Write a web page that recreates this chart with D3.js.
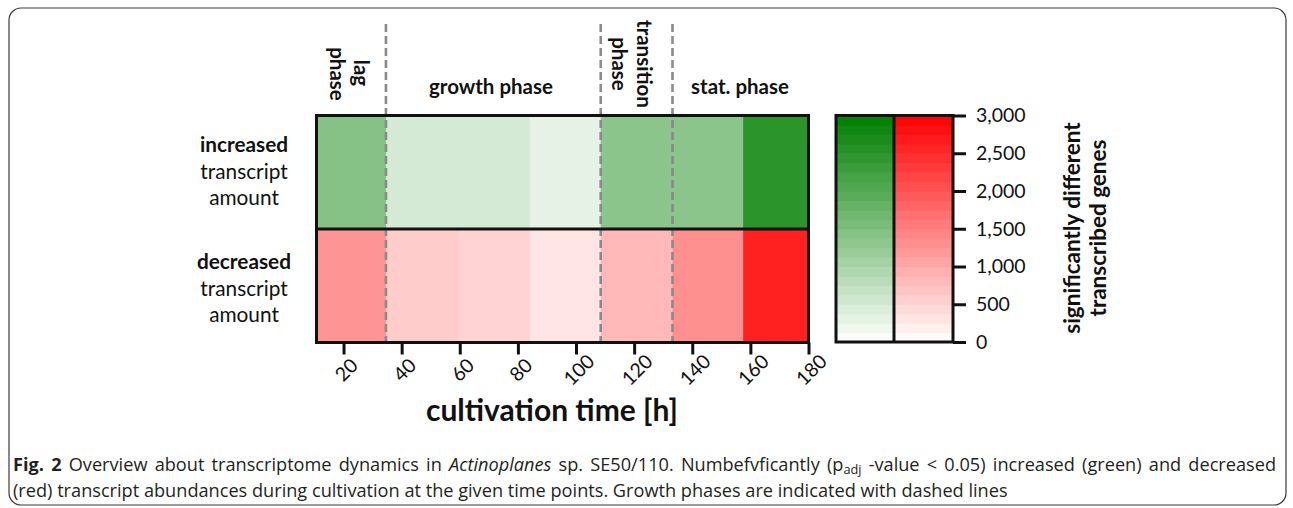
<!DOCTYPE html>
<html>
<head>
<meta charset="utf-8">
<script src="https://cdn.jsdelivr.net/npm/d3@7"></script>
<style>
  html, body { margin: 0; padding: 0; background: #fff; }
  svg { display: block; }
</style>
</head>
<body>
<svg id="fig" width="1293" height="508"></svg>
<script>
// Sampling windows (hours): each cell spans timeEdges[i]..timeEdges[i+1]
const timeEdges = [10.7, 34.6, 59.7, 84.1, 108.5, 133.2, 157.5, 180];
const rows = ["increased", "decreased"];
// Number of significantly different transcribed genes per window
const increasedGenes = [1425, 495, 495, 300, 1365, 1360, 2500];
const decreasedGenes = [1260, 600, 520, 305, 825, 1305, 2625];
const xTicks = [20, 40, 60, 80, 100, 120, 140, 160, 180];
const colorTicks = [0, 500, 1000, 1500, 2000, 2500, 3000];
const phaseBoundaries = [34.6, 108.5, 133.2];

const svg = d3.select("#fig");
const chartFont = "Lato, 'Open Sans', sans-serif";
const ink = "#111";

// outer rounded frame
svg.append("rect")
  .attr("x", 9).attr("y", 8).attr("width", 1277).attr("height", 497)
  .attr("rx", 12).attr("fill", "none").attr("stroke", "#3a3a3a").attr("stroke-width", 1.2);

const x = d3.scaleLinear().domain([10.7, 180]).range([316.5, 808.5]);
const y = d3.scaleBand().domain(rows).range([115.5, 342.5]);
const cScale = d3.scaleLinear().domain([0, 3000]).range([342, 115.5]);

const greenColor = d3.scaleLinear().domain([0, 3000]).range(["#ffffff", "#007f00"]).interpolate(d3.interpolateRgb);
const redColor = d3.scaleLinear().domain([0, 3000]).range(["#ffffff", "#ff0000"]).interpolate(d3.interpolateRgb);

const series = [
  { row: "increased", values: increasedGenes, color: greenColor },
  { row: "decreased", values: decreasedGenes, color: redColor }
];

// heatmap cells
const cells = svg.append("g");
series.forEach(s => {
  cells.selectAll(null)
    .data(s.values)
    .enter().append("rect")
    .attr("x", (d, i) => x(timeEdges[i]))
    .attr("width", (d, i) => x(timeEdges[i + 1]) - x(timeEdges[i]) + 0.5)
    .attr("y", y(s.row))
    .attr("height", y.bandwidth())
    .attr("fill", d => s.color(d));
});

// phase dividers
svg.append("g").selectAll("line")
  .data(phaseBoundaries)
  .enter().append("line")
  .attr("x1", d => x(d)).attr("x2", d => x(d))
  .attr("y1", 24).attr("y2", 341)
  .attr("stroke", "#8a8a8a").attr("stroke-width", 2.6)
  .attr("stroke-dasharray", "8,4");

// heatmap frame and row separator
svg.append("rect")
  .attr("x", x.range()[0]).attr("y", y.range()[0])
  .attr("width", x.range()[1] - x.range()[0])
  .attr("height", y.range()[1] - y.range()[0])
  .attr("fill", "none").attr("stroke", ink).attr("stroke-width", 3);
svg.append("line")
  .attr("x1", x.range()[0]).attr("x2", x.range()[1])
  .attr("y1", y("decreased")).attr("y2", y("decreased"))
  .attr("stroke", ink).attr("stroke-width", 3);

// x axis
const xAxis = svg.append("g")
  .attr("transform", `translate(0,${y.range()[1]})`)
  .call(d3.axisBottom(x).tickValues(xTicks).tickSize(12).tickFormat(d3.format("d")));
xAxis.select(".domain").remove();
xAxis.selectAll(".tick line").attr("stroke", ink).attr("stroke-width", 3);
xAxis.selectAll(".tick text")
  .attr("font-family", chartFont).attr("font-size", 19.5).attr("fill", ink)
  .attr("text-anchor", "middle").attr("dy", null).attr("y", null)
  .attr("dominant-baseline", "central")
  .attr("transform", "translate(2,27) rotate(-45)");

svg.append("text")
  .attr("x", 552).attr("y", 421)
  .attr("text-anchor", "middle")
  .attr("font-family", chartFont).attr("font-weight", 700).attr("font-size", 30)
  .attr("fill", ink)
  .text("cultivation time [h]");

// row labels
const rowLabels = [
  { row: "increased", base: 152 },
  { row: "decreased", base: 269 }
];
rowLabels.forEach(r => {
  const t = svg.append("text")
    .attr("text-anchor", "middle")
    .attr("font-family", chartFont).attr("font-size", 20.8).attr("fill", ink);
  t.append("tspan").attr("x", 244).attr("y", r.base).attr("font-weight", 700).text(r.row);
  t.append("tspan").attr("x", 244).attr("y", r.base + 26.5).text("transcript");
  t.append("tspan").attr("x", 244).attr("y", r.base + 53).text("amount");
});

// phase labels
const phaseSize = 20.5;
function phaseText(px, py, str, rotate) {
  svg.append("text")
    .attr("transform", `translate(${px},${py})` + (rotate ? " rotate(90)" : ""))
    .attr("text-anchor", "middle")
    .attr("dominant-baseline", rotate ? "central" : "auto")
    .attr("font-family", chartFont).attr("font-weight", 700)
    .attr("font-size", phaseSize).attr("fill", ink)
    .text(str);
}
phaseText(362, 73, "lag", true);
phaseText(338, 74, "phase", true);
phaseText(491, 94, "growth phase", false);
phaseText(645, 64, "transition", true);
phaseText(620, 64, "phase", true);
phaseText(740, 94, "stat. phase", false);

// colour legend
const legendCols = [
  { x0: 836, x1: 894, color: greenColor },
  { x0: 894, x1: 953, color: redColor }
];
const nBands = 24;
const bandVals = d3.range(nBands).map(i => (i + 0.5) * 3000 / nBands);
legendCols.forEach(col => {
  svg.append("g").selectAll("rect")
    .data(bandVals)
    .enter().append("rect")
    .attr("x", col.x0).attr("width", col.x1 - col.x0)
    .attr("y", d => cScale(d + 3000 / nBands / 2))
    .attr("height", cScale(0) - cScale(3000 / nBands) + 0.6)
    .attr("fill", d => col.color(d));
});
svg.append("rect")
  .attr("x", 836).attr("y", cScale(3000))
  .attr("width", 953 - 836).attr("height", cScale(0) - cScale(3000))
  .attr("fill", "none").attr("stroke", ink).attr("stroke-width", 3);
svg.append("line")
  .attr("x1", 894).attr("x2", 894).attr("y1", cScale(3000)).attr("y2", cScale(0))
  .attr("stroke", ink).attr("stroke-width", 3);

const cAxis = svg.append("g")
  .attr("transform", "translate(953,0)")
  .call(d3.axisRight(cScale).tickValues(colorTicks).tickSize(13).tickPadding(10)
    .tickFormat(d3.format(",")));
cAxis.select(".domain").remove();
cAxis.selectAll(".tick line").attr("stroke", ink).attr("stroke-width", 3);
cAxis.selectAll(".tick text")
  .attr("font-family", chartFont).attr("font-size", 19.5).attr("fill", ink);

const cTitle = svg.append("text")
  .attr("transform", "translate(1084,228) rotate(-90)")
  .attr("text-anchor", "middle")
  .attr("font-family", chartFont).attr("font-weight", 700).attr("font-size", 22.5)
  .attr("fill", ink);
cTitle.append("tspan").attr("x", 0).attr("y", -4).text("significantly different");
cTitle.append("tspan").attr("x", 0).attr("y", 22).text("transcribed genes");

// caption: first line justified to the frame width, second line ragged
const capFont = "'Open Sans', 'Noto Sans', sans-serif";
const capColor = "#231f20";
const capLeft = 13, capRight = 1276;
const cap1 = svg.append("text")
  .attr("x", capLeft).attr("y", 471)
  .attr("font-family", capFont).attr("font-size", 16).attr("fill", capColor);
cap1.append("tspan").attr("font-weight", 700).text("Fig. 2");
cap1.append("tspan").text(" Overview about transcriptome dynamics in ");
cap1.append("tspan").attr("font-style", "italic").text("Actinoplanes");
cap1.append("tspan").text(" sp. SE50/110. Numbefvficantly (p");
const sub = cap1.append("tspan").attr("baseline-shift", "-3").text("adj");
cap1.append("tspan").text(" -value < 0.05) increased (green) and decreased");

// size the caption so the first line nearly fills the frame, then justify
sub.attr("font-size", 11.2);
const natural = cap1.node().getComputedTextLength();
const capSize = 16 * (capRight - capLeft) * 0.965 / natural;
cap1.attr("font-size", capSize);
sub.attr("font-size", capSize * 0.7);
const gaps = (cap1.text().match(/ /g) || []).length;
const spare = (capRight - capLeft) - cap1.node().getComputedTextLength();
cap1.attr("word-spacing", Math.max(0, spare / gaps));

svg.append("text")
  .attr("x", capLeft).attr("y", 497)
  .attr("font-family", capFont).attr("font-size", capSize).attr("fill", capColor)
  .text("(red) transcript abundances during cultivation at the given time points. Growth phases are indicated with dashed lines");
</script>
</body>
</html>
